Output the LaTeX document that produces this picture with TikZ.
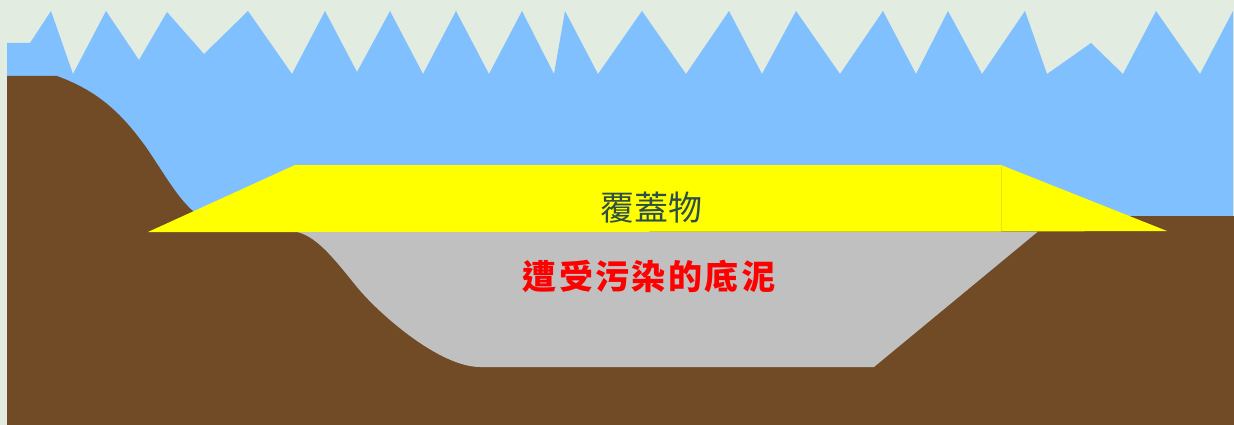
\documentclass[tikz,border=0pt]{standalone}
\usepackage{fontspec}
\newfontfamily\cjk{Noto Sans CJK TC}
\definecolor{paper}{RGB}{226,236,225}
\definecolor{water}{RGB}{128,192,255}
\definecolor{soil}{RGB}{112,75,38}
\definecolor{sludge}{RGB}{192,192,192}
\definecolor{capcolor}{RGB}{255,255,0}
\definecolor{capink}{RGB}{47,79,70}
\definecolor{sludgeink}{RGB}{255,0,0}
\tikzset{
  capseam/.style={draw=capcolor!80!gray, line width=0.6pt},
  captext/.style={font=\cjk\fontsize{34}{36}\selectfont, text=capink, inner sep=0pt},
  sludgetext/.style={font=\cjk\bfseries\addfontfeature{LetterSpace=7}\fontsize{34}{36}\selectfont, text=sludgeink, inner sep=0pt}
}
\begin{document}
\begin{tikzpicture}[x=1pt,y=-1pt]
  % canvas
  \fill[paper] (0,0) rectangle (1234,425);
  \useasboundingbox (0,0) rectangle (1234,425);

  % water body with a jagged surface
  \fill[water] (7,43) -- (30,43) -- (51,11) -- (73,74) -- (106,11) -- (139,60)
    -- (167,12) -- (204,54) -- (248,11) -- (292,74) -- (325,11) -- (357,72)
    -- (390,11) -- (423,74) -- (456,11) -- (489,74) -- (522,11) -- (554,74)
    -- (565,11) -- (598,74) -- (642,11) -- (686,74) -- (729,11) -- (762,74)
    -- (796,11) -- (840,74) -- (883,11) -- (916,74) -- (948,11) -- (982,74)
    -- (1025,11) -- (1047,74) -- (1091,43) -- (1123,74) -- (1156,11)
    -- (1200,74) -- (1233,11) -- (1233,425) -- (7,425) -- cycle;

  % river bed and banks
  \fill[soil] (7,425) -- (7,76) -- (57,76)
    .. controls (95,90) and (120,110) .. (148,150)
    .. controls (168,180) and (178,198) .. (194,212)
    -- (200,220) -- (300,220) -- (1056,216) -- (1234,216) -- (1234,425) -- cycle;

  % contaminated sediment in the basin
  \fill[sludge] (293,231.5)
    .. controls (315,233) and (335,260) .. (357,287)
    .. controls (380,315) and (440,367) .. (480,367)
    -- (874,367) -- (1038,231.5) -- cycle;

  % cap layer
  \fill[capcolor] (148,232) -- (295,165) -- (1001,165) -- (1167,231) -- (1001,231.5) -- (295,232) -- cycle;
  \draw[capseam] (1001,165.5) -- (1001,231);

  \node[captext] (cap) at (651,208) {覆蓋物};
  \node[sludgetext] (sed) at (649,276) {遭受污染的底泥};
\end{tikzpicture}
\end{document}
